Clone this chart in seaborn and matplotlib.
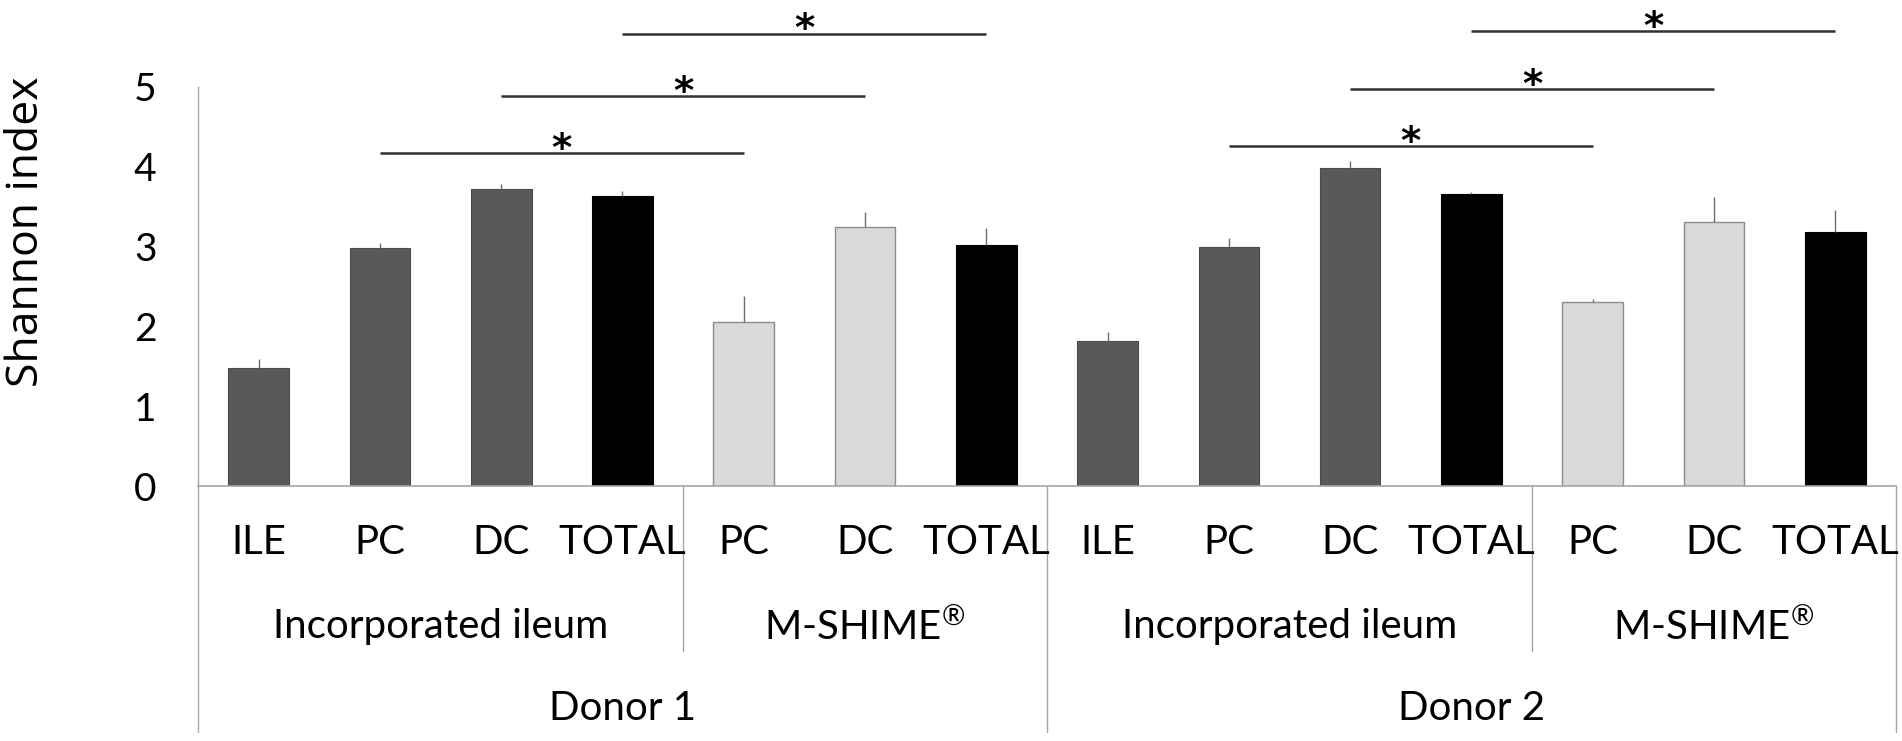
import matplotlib
matplotlib.use("Agg")
import matplotlib.pyplot as plt
import seaborn as sns
import pandas as pd
import numpy as np

# ---- data ----
donors = ["Donor 1"] * 7 + ["Donor 2"] * 7
systems = (["Incorporated ileum"] * 4 + ["M-SHIME®"] * 3) * 2
sites = ["ILE", "PC", "DC", "TOTAL", "PC", "DC", "TOTAL"] * 2
shannon = [1.48, 2.98, 3.72, 3.64, 2.05, 3.24, 3.02,
           1.82, 2.99, 3.99, 3.66, 2.31, 3.31, 3.18]
err_up = [0.11, 0.06, 0.06, 0.06, 0.33, 0.19, 0.21,
          0.11, 0.12, 0.08, 0.03, 0.03, 0.31, 0.28]
# significance brackets: (from bar index, to bar index, height)
sig_from = [1, 2, 3, 8, 9, 10]
sig_to = [4, 5, 6, 11, 12, 13]
sig_height = [4.17, 4.89, 5.67, 4.26, 4.98, 5.70]
sig_label = ["*"] * 6

DARK = "#595959"
LIGHT = "#d9d9d9"
BLACK = "#000000"

ids = [f"{d}|{s}|{t}" for d, s, t in zip(donors, systems, sites)]
colors = []
for s, t in zip(systems, sites):
    if t == "TOTAL":
        colors.append(BLACK)
    elif s == "M-SHIME®":
        colors.append(LIGHT)
    else:
        colors.append(DARK)

df = pd.DataFrame({"bar": ids, "value": shannon})

sns.set_theme(style="white")
plt.rcParams["font.family"] = ["Lato", "DejaVu Sans"]
plt.rcParams["mathtext.fontset"] = "custom"
plt.rcParams["mathtext.rm"] = "Lato"
plt.rcParams["mathtext.it"] = "Lato"

fig = plt.figure(figsize=(19.02, 7.41), dpi=100)
ax = fig.add_axes([0.1041, 0.3441, 0.8927, 0.6559])

sns.barplot(data=df, x="bar", y="value", hue="bar", order=ids, hue_order=ids,
            palette=dict(zip(ids, colors)), legend=False, width=0.5,
            errorbar=None, ax=ax, saturation=1)

for p, c in zip(ax.patches, colors):
    if c == LIGHT:
        p.set_edgecolor("#8c8c8c")
        p.set_linewidth(1.0)
    elif c == DARK:
        p.set_edgecolor("#4a4a4a")
        p.set_linewidth(0.8)
    else:
        p.set_edgecolor(BLACK)
        p.set_linewidth(0.8)

xpos = np.arange(len(ids))
ax.errorbar(xpos, shannon, yerr=[np.zeros(len(err_up)), err_up], fmt="none",
            ecolor="#6e6e6e", elinewidth=1.0, capsize=0, zorder=1)

for a, b, h, lab in zip(sig_from, sig_to, sig_height, sig_label):
    ax.plot([a, b], [h, h], color="#303030", lw=1.8, solid_capstyle="butt",
            clip_on=False)
    ax.text((a + b) / 2, h - 0.1, lab, ha="center", va="baseline",
            fontsize=28, fontweight="bold", color="black",
            family=["DejaVu Sans"])

ax.set_xlim(-0.5, len(ids) - 0.5)
ax.set_ylim(0, 6.09)
ax.set_yticks(range(6))
ax.set_yticklabels([str(i) for i in range(6)])
ax.tick_params(axis="y", labelsize=28, length=0, pad=30, colors="black")
ax.set_xticks([])
ax.set_xlabel("")
ax.set_ylabel("")

for s in ["top", "right"]:
    ax.spines[s].set_visible(False)
ax.spines["left"].set_bounds(0, 5)
ax.spines["left"].set_color("#a6a6a6")
ax.spines["left"].set_linewidth(1.0)
ax.spines["bottom"].set_color("#a6a6a6")
ax.spines["bottom"].set_linewidth(1.2)

tr = ax.get_xaxis_transform()


def fmt_label(s):
    if s.endswith("®"):
        return s[:-1] + r"$^{\mathrm{®}}$"
    return s


# level 1 labels
for x, t in zip(xpos, sites):
    ax.text(x, -0.117, t, transform=tr, ha="center", va="center",
            fontsize=29, color="black")
# level 2 labels
grp2 = []
for i, (d, s) in enumerate(zip(donors, systems)):
    key = (d, s)
    if not grp2 or grp2[-1][0] != key:
        grp2.append([key, [i]])
    else:
        grp2[-1][1].append(i)
for (d, s), idx in grp2:
    ax.text(np.mean(idx), -0.29, fmt_label(s), transform=tr, ha="center",
            va="center", fontsize=29, color="black")
# level 3 labels
grp3 = []
for i, d in enumerate(donors):
    if not grp3 or grp3[-1][0] != d:
        grp3.append([d, [i]])
    else:
        grp3[-1][1].append(i)
for d, idx in grp3:
    ax.text(np.mean(idx), -0.457, d, transform=tr, ha="center", va="center",
            fontsize=29, color="black")

# separators
sep_col = "#a6a6a6"
starts3 = [g[1][0] for g in grp3]
for (d, s), idx in grp2:
    x = idx[0] - 0.5
    if idx[0] not in starts3:
        ax.plot([x, x], [0, -0.34], transform=tr, color=sep_col, lw=1.0,
                clip_on=False)
for d, idx in grp3:
    x = idx[0] - 0.5
    ax.plot([x, x], [0, -0.506], transform=tr, color=sep_col, lw=1.0,
            clip_on=False)
xr = len(ids) - 0.5
ax.plot([xr, xr], [0, -0.506], transform=tr, color=sep_col, lw=1.0,
        clip_on=False)

fig.text(27 / 1902, 1 - 232 / 741, "Shannon index", rotation=90, ha="center",
         va="center", fontsize=32, family=["Open Sans", "DejaVu Sans"],
         color="black")

fig.savefig("out.png", dpi=100, facecolor="white")
